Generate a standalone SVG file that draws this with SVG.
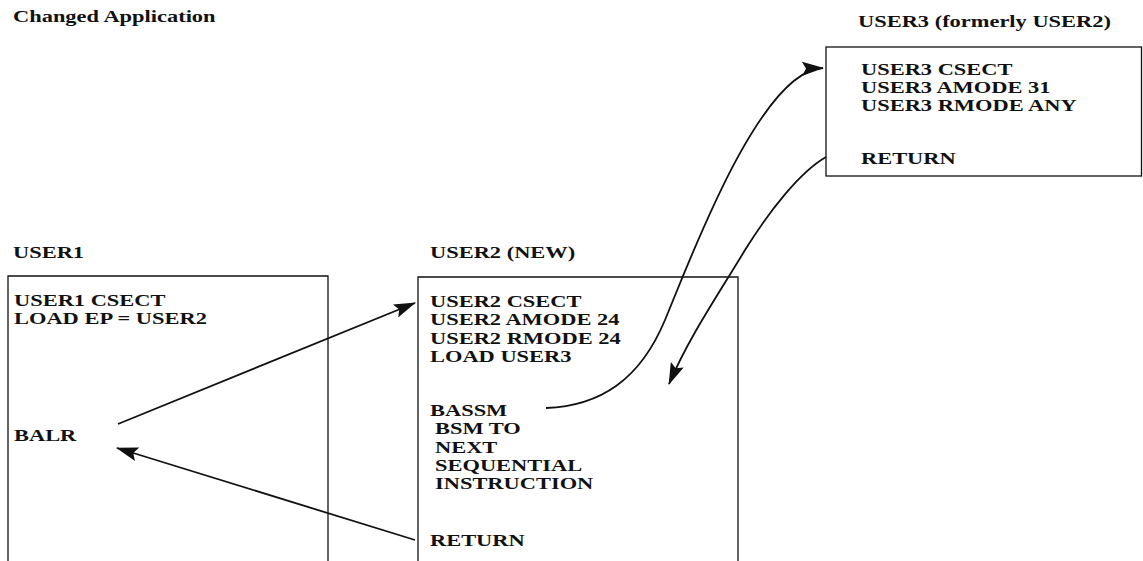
<svg xmlns="http://www.w3.org/2000/svg" width="1143" height="561" viewBox="0 0 1143 561">
  <style>
    .t { font-family: "Liberation Serif", "Times New Roman", serif; font-size: 16.5px; font-weight: bold; fill: #111; }
    .box { fill: none; stroke: #111; stroke-width: 1.3; }
    .conn { fill: none; stroke: #111; stroke-width: 1.8; marker-end: url(#arrow); }
  </style>
  <defs>
    <marker id="arrow" viewBox="0 0 22 14" refX="21" refY="7" markerWidth="22" markerHeight="14" markerUnits="userSpaceOnUse" orient="auto">
      <path d="M0,0 L22,7 L0,14 L4,7 Z" fill="#111"/>
    </marker>
  </defs>
  <rect width="1143" height="561" fill="#fff"/>

  <g id="title">
    <text class="t" transform="translate(13 22) scale(1.36 1)">Changed Application</text>
  </g>

  <g id="node-user1">
    <text class="t" transform="translate(13 258) scale(1.36 1)">USER1</text>
    <path class="box" d="M8,570 L8,276 L328,276 L328,570"/>
    <text class="t" transform="translate(14 306) scale(1.36 1)">USER1 CSECT</text>
    <text class="t" transform="translate(14 324.3) scale(1.36 1)">LOAD EP = USER2</text>
    <text class="t" transform="translate(14 441) scale(1.36 1)">BALR</text>
  </g>

  <g id="node-user2">
    <text class="t" transform="translate(430 258) scale(1.36 1)">USER2 (NEW)</text>
    <path class="box" d="M418,570 L418,277 L738,277 L738,570"/>
    <text class="t" transform="translate(430 307) scale(1.36 1)">USER2 CSECT</text>
    <text class="t" transform="translate(430 325.3) scale(1.36 1)">USER2 AMODE 24</text>
    <text class="t" transform="translate(430 343.6) scale(1.36 1)">USER2 RMODE 24</text>
    <text class="t" transform="translate(430 361.9) scale(1.36 1)">LOAD USER3</text>
    <text class="t" transform="translate(430 416) scale(1.36 1)">BASSM</text>
    <text class="t" transform="translate(435 434.3) scale(1.36 1)">BSM TO</text>
    <text class="t" transform="translate(435 452.6) scale(1.36 1)">NEXT</text>
    <text class="t" transform="translate(435 470.9) scale(1.36 1)">SEQUENTIAL</text>
    <text class="t" transform="translate(435 489.2) scale(1.36 1)">INSTRUCTION</text>
    <text class="t" transform="translate(430 545.5) scale(1.36 1)">RETURN</text>
  </g>

  <g id="node-user3">
    <text class="t" transform="translate(858 27) scale(1.36 1)">USER3 (formerly USER2)</text>
    <rect class="box" x="826" y="47" width="315.5" height="129"/>
    <text class="t" transform="translate(861 74.5) scale(1.36 1)">USER3 CSECT</text>
    <text class="t" transform="translate(861 92.8) scale(1.36 1)">USER3 AMODE 31</text>
    <text class="t" transform="translate(861 111.1) scale(1.36 1)">USER3 RMODE ANY</text>
    <text class="t" transform="translate(861 163.5) scale(1.36 1)">RETURN</text>
  </g>

  <g id="connectors">
    <path class="conn" d="M118,424 L415,303"/>
    <path class="conn" d="M415,540 L117,448"/>
    <path class="conn" d="M546,408 C600,406 640,380 665,320 C690,260 760,70 823,68"/>
    <path class="conn" d="M826,157 C800,172 770,210 745,250 C720,292 690,335 669,384"/>
  </g>
</svg>
